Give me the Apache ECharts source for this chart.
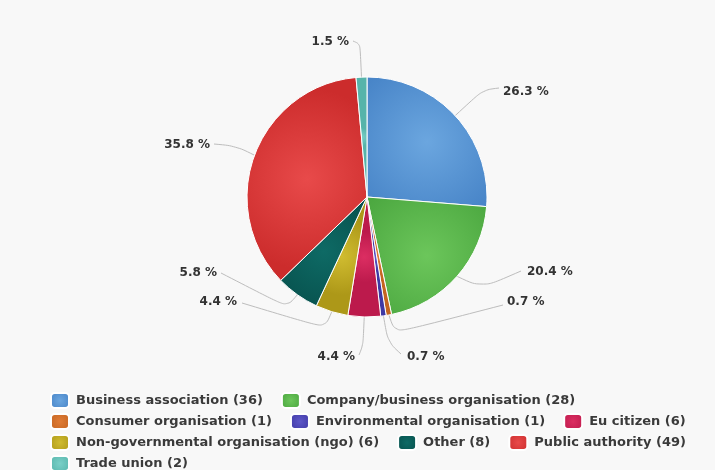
<!DOCTYPE html>
<html>
<head>
<meta charset="utf-8">
<script src="https://cdn.jsdelivr.net/npm/echarts@6/dist/echarts.min.js"></script>
<style>
html,body{margin:0;padding:0;background:#f8f8f8;}
#c{width:715px;height:470px;}
</style>
</head>
<body>
<div id="c"></div>
<script>
const categories = [
  'Business association',
  'Company/business organisation',
  'Consumer organisation',
  'Environmental organisation',
  'Eu citizen',
  'Non-governmental organisation (ngo)',
  'Other',
  'Public authority',
  'Trade union'
];
const counts = [36, 28, 1, 1, 6, 6, 8, 49, 2];

// styling (not data)
const lightColors = ['#6ba6df', '#6cc65b', '#e07c36', '#5e58c8', '#dc2e62', '#d0bc30', '#0e6a65', '#e84a4a', '#7ad0c8'];
const darkColors  = ['#4582c6', '#48a43d', '#c46420', '#3e38a4', '#bc1a4c', '#ad9818', '#07504c', '#cc2c2c', '#56b4aa'];
const CX = 367, CY = 197, R = 120;
// label anchor [x, y, align] and connector [bend, end]
const labelPlace = [
  [503, 92, 'left',  [483, 90], [499, 88]],
  [527, 272, 'left', [482, 288], [521, 271]],
  [507, 302, 'left', [395, 333], [503, 305]],
  [407, 357, 'left', [388, 342], [401, 354]],
  [355, 357, 'right', [363, 345], [359, 355]],
  [237, 302, 'right', [325, 328], [242, 303]],
  [217, 273, 'right', [287, 307], [221, 273]],
  [210, 145, 'right', [236, 146], [214, 144]],
  [349, 42, 'right', [360, 44], [353, 41]]
];

const chart = echarts.init(document.getElementById('c'), null, {renderer: 'canvas'});
const data = categories.map((n, i) => ({
  name: n,
  value: counts[i],
  itemStyle: {
    color: {
      type: 'radial', x: 0.5, y: 0.5, r: 0.75,
      colorStops: [{offset: 0, color: lightColors[i]}, {offset: 1, color: darkColors[i]}]
    }
  }
}));

chart.setOption({
  backgroundColor: '#f8f8f8',
  animation: false,
  legend: {
    left: 50,
    top: 392,
    width: 665,
    padding: 0,
    orient: 'horizontal',
    itemWidth: 18,
    itemHeight: 15,
    itemGap: 4,
    icon: 'roundRect',
    data: categories,
    formatter: function (name) {
      return name + ' (' + counts[categories.indexOf(name)] + ')';
    },
    textStyle: {
      fontFamily: 'DejaVu Sans',
      fontWeight: 'bold',
      fontSize: 13,
      lineHeight: 17,
      color: '#3a3a3a',
      padding: [0, 14, 0, 2]
    },
    selectedMode: false
  },
  series: [{
    type: 'pie',
    center: [CX, CY],
    radius: R,
    startAngle: 90,
    clockwise: true,
    percentPrecision: 1,
    data: data,
    itemStyle: {borderColor: '#ffffff', borderWidth: 1},
    emphasis: {disabled: true},
    label: {
      show: true,
      formatter: '{d} %',
      fontFamily: 'DejaVu Sans',
      fontWeight: 'bold',
      fontSize: 12,
      color: '#333333'
    },
    labelLine: {
      show: true,
      length: 15,
      length2: 10,
      smooth: 0.35,
      lineStyle: {color: '#bdbdbd', width: 1}
    },
    labelLayout: function (params) {
      const p = labelPlace[params.dataIndex];
      const start = params.labelLinePoints ? params.labelLinePoints[0] : null;
      const out = {
        x: p[0],
        y: p[1],
        align: p[2],
        verticalAlign: 'middle',
        hideOverlap: false,
        moveOverlap: null
      };
      if (start) {
        out.labelLinePoints = [start, p[3], p[4]];
      }
      return out;
    }
  }]
});
</script>
</body>
</html>
